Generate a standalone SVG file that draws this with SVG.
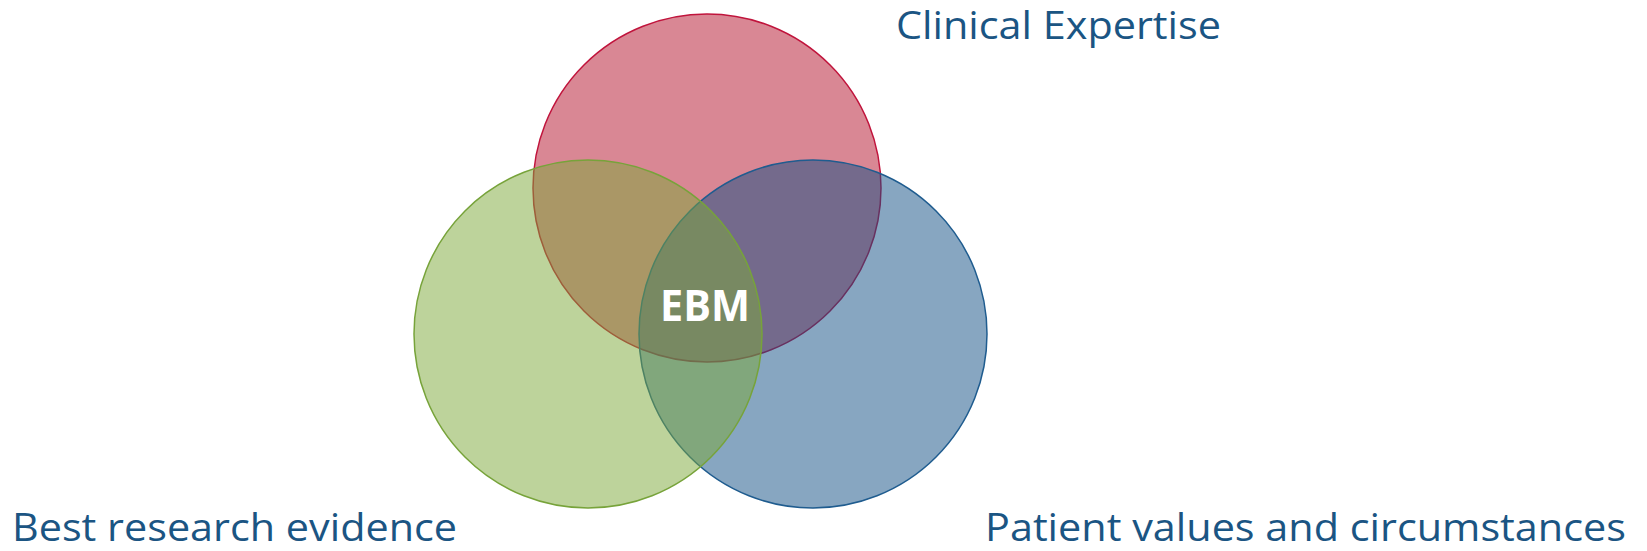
<svg xmlns="http://www.w3.org/2000/svg" width="1647" height="551" viewBox="0 0 1647 551">
<style>
.lbl{font-family:"Open Sans","Liberation Sans",sans-serif;font-size:39px;fill:#1B5583}
.c{stroke-width:1.5;fill-opacity:0.5}
</style>
<rect width="1647" height="551" fill="#ffffff"/>
<g id="clinical">
<circle class="c" cx="707" cy="188" r="174" fill="#B30F29" stroke="#C0143C"/>
<text class="lbl" x="896" y="39" textLength="325" lengthAdjust="spacingAndGlyphs">Clinical Expertise</text>
</g>
<g id="patient">
<circle class="c" cx="813" cy="334" r="174" fill="#0F4D83" stroke="#1F5C8F"/>
<text class="lbl" x="985" y="541" textLength="641" lengthAdjust="spacingAndGlyphs">Patient values and circumstances</text>
</g>
<g id="research">
<circle class="c" cx="588" cy="334" r="174" fill="#7BA737" stroke="#77A33A"/>
<text class="lbl" x="12" y="541" textLength="445" lengthAdjust="spacingAndGlyphs">Best research evidence</text>
</g>
<g id="ebm">
<text x="705" y="321" text-anchor="middle" font-family="Open Sans, Liberation Sans, sans-serif" font-weight="bold" font-size="43" fill="#ffffff" textLength="90" lengthAdjust="spacingAndGlyphs">EBM</text>
</g>
<g id="connectors"/>
</svg>
